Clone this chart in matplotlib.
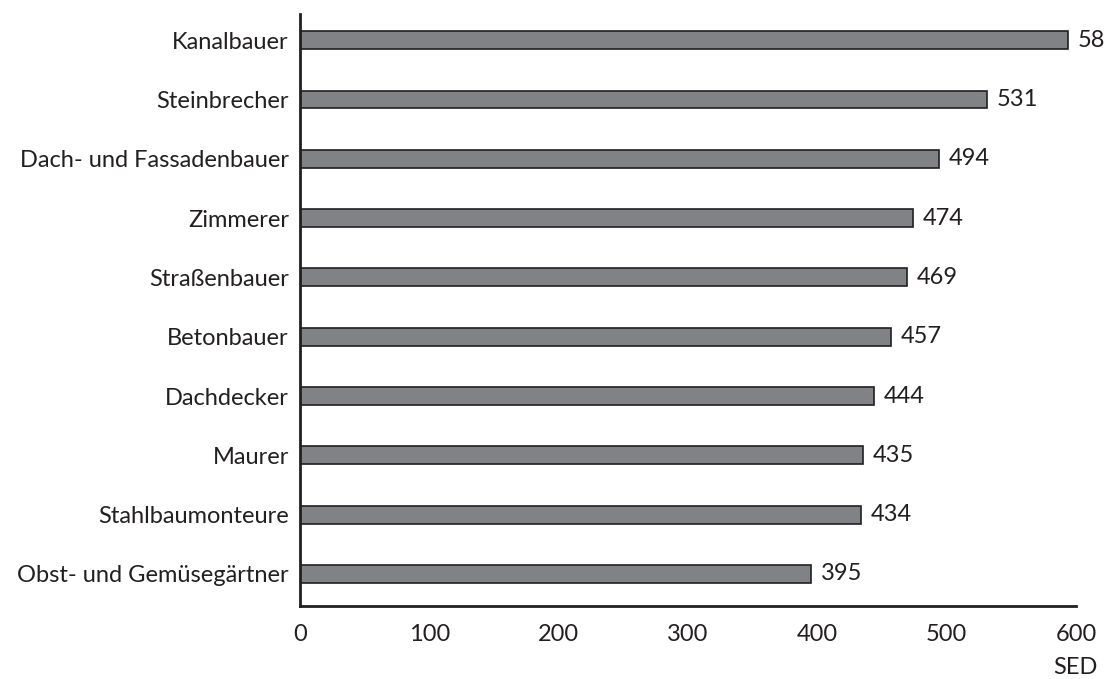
import matplotlib
matplotlib.use("Agg")
import matplotlib.pyplot as plt

categories = ["Kanalbauer", "Steinbrecher", "Dach- und Fassadenbauer", "Zimmerer",
              "Straßenbauer", "Betonbauer", "Dachdecker", "Maurer",
              "Stahlbaumonteure", "Obst- und Gemüsegärtner"]
values = [594, 531, 494, 474, 469, 457, 444, 435, 434, 395]
value_labels = ["58", "531", "494", "474", "469", "457", "444", "435", "434", "395"]
xticks = [0, 100, 200, 300, 400, 500, 600]

plt.rcParams['font.family'] = ['Lato', 'DejaVu Sans']
FS = 17
TC = "#231f20"

fig = plt.figure(figsize=(11.04, 6.79), dpi=100)
ax = fig.add_axes([300/1104, 1-606/679, (1076-300)/1104, (606-14)/679])

n = len(categories)
ypos = list(range(n - 1, -1, -1))
ax.barh(ypos, values, height=0.30, color="#808285", edgecolor=TC, linewidth=1.2)
for y, v, lab in zip(ypos, values, value_labels):
    ax.annotate(lab, (v, y), xytext=(7, 0), textcoords="offset points",
                va="center", ha="left", fontsize=FS, color=TC)

ax.set_xlim(0, 600)
ax.set_ylim(-0.54, n - 1 + 0.44)
ax.set_yticks(ypos)
ax.set_yticklabels(categories, fontsize=FS, color=TC)
ax.set_xticks(xticks)
ax.set_xticklabels([str(t) for t in xticks], fontsize=FS, color=TC)
ax.tick_params(length=0, pad=8)
ax.tick_params(axis='x', pad=13)
for s in ["top", "right"]:
    ax.spines[s].set_visible(False)
for s in ["left", "bottom"]:
    ax.spines[s].set_linewidth(2)
    ax.spines[s].set_color(TC)

fig.text(1075/1104, 1-667/679, "SED", ha="center", va="center", fontsize=FS, color=TC)

fig.savefig("out.png", dpi=100)
